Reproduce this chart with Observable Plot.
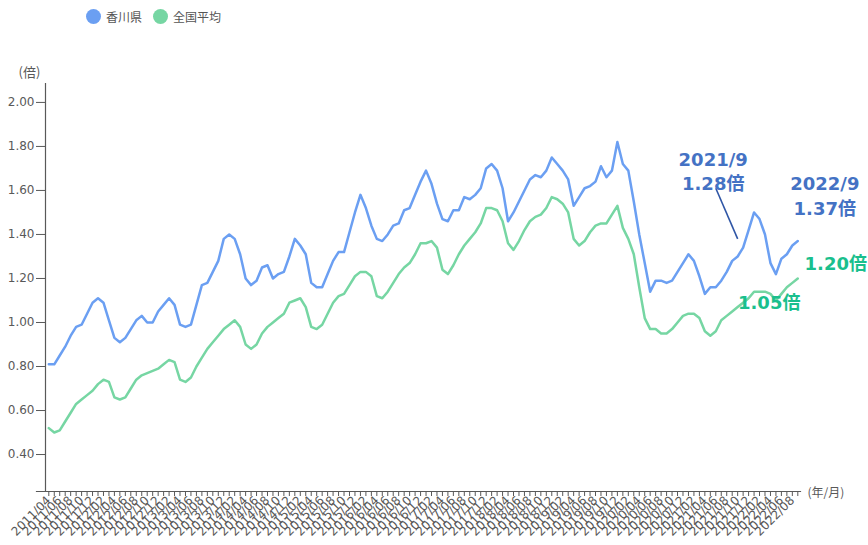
<!DOCTYPE html>
<html>
<head>
<meta charset="utf-8">
<script src="https://cdn.jsdelivr.net/npm/d3@7"></script>
<script src="https://cdn.jsdelivr.net/npm/@observablehq/plot@0.6"></script>
<style>
  html, body { margin: 0; padding: 0; background: #fff; }
  #legend { height: 32px; display: flex; align-items: center; padding-left: 86px;
    font: 12px "Noto Sans CJK JP", sans-serif; color: #555; }
  #legend .sw { display: inline-block; width: 15px; height: 15px; border-radius: 50%; margin-right: 5px; }
  #legend .item { display: flex; align-items: center; margin-right: 11px; }
</style>
</head>
<body>
<div id="legend"></div>
<div id="chart"></div>
<script>
// Series names and colours
const seriesNames = ["香川県", "全国平均"];
const seriesColors = ["#6b9ff2", "#76d6a3"];

// Monthly categories: 2011/04 .. 2022/09
const startYear = 2011, startMonth = 4, monthCount = 138;
const months = [];
for (let k = 0; k < monthCount; k++) {
  const t = startMonth - 1 + k;
  const y = startYear + Math.floor(t / 12), m = (t % 12) + 1;
  months.push(`${y}/${String(m).padStart(2, "0")}`);
}

// 有効求人倍率 (倍) — 香川県
const kagawa = [
  0.81, 0.81, 0.85, 0.89, 0.94, 0.98, 0.99, 1.04, 1.09,
  1.11, 1.09, 1.01, 0.93, 0.91, 0.93, 0.97, 1.01, 1.03, 1.00, 1.00, 1.05,
  1.08, 1.11, 1.08, 0.99, 0.98, 0.99, 1.08, 1.17, 1.18, 1.23, 1.28, 1.38,
  1.40, 1.38, 1.31, 1.20, 1.17, 1.19, 1.25, 1.26, 1.20, 1.22, 1.23, 1.30,
  1.38, 1.35, 1.31, 1.18, 1.16, 1.16, 1.22, 1.28, 1.32, 1.32, 1.41, 1.50,
  1.58, 1.52, 1.44, 1.38, 1.37, 1.40, 1.44, 1.45, 1.51, 1.52, 1.58, 1.64,
  1.69, 1.63, 1.54, 1.47, 1.46, 1.51, 1.51, 1.57, 1.56, 1.58, 1.61, 1.70,
  1.72, 1.69, 1.61, 1.46, 1.50, 1.55, 1.60, 1.65, 1.67, 1.66, 1.69, 1.75,
  1.72, 1.69, 1.65, 1.53, 1.57, 1.61, 1.62, 1.64, 1.71, 1.66, 1.69, 1.82,
  1.72, 1.69, 1.55, 1.40, 1.27, 1.14, 1.19, 1.19, 1.18, 1.19, 1.23, 1.27,
  1.31, 1.28, 1.21, 1.13, 1.16, 1.16, 1.19, 1.23, 1.28, 1.30, 1.34, 1.42,
  1.50, 1.47, 1.40, 1.27, 1.22, 1.29, 1.31, 1.35, 1.37
];

// 有効求人倍率 (倍) — 全国平均
const national = [
  0.52, 0.50, 0.51, 0.55, 0.59, 0.63, 0.65, 0.67, 0.69,
  0.72, 0.74, 0.73, 0.66, 0.65, 0.66, 0.70, 0.74, 0.76, 0.77, 0.78, 0.79,
  0.81, 0.83, 0.82, 0.74, 0.73, 0.75, 0.80, 0.84, 0.88, 0.91, 0.94, 0.97,
  0.99, 1.01, 0.98, 0.90, 0.88, 0.90, 0.95, 0.98, 1.00, 1.02, 1.04, 1.09,
  1.10, 1.11, 1.07, 0.98, 0.97, 0.99, 1.04, 1.09, 1.12, 1.13, 1.17, 1.21,
  1.23, 1.23, 1.21, 1.12, 1.11, 1.14, 1.18, 1.22, 1.25, 1.27, 1.31, 1.36,
  1.36, 1.37, 1.34, 1.24, 1.22, 1.26, 1.31, 1.35, 1.38, 1.41, 1.45, 1.52,
  1.52, 1.51, 1.46, 1.36, 1.33, 1.37, 1.42, 1.46, 1.48, 1.49, 1.52, 1.57,
  1.56, 1.54, 1.50, 1.38, 1.35, 1.37, 1.41, 1.44, 1.45, 1.45, 1.49, 1.53,
  1.43, 1.38, 1.31, 1.16, 1.02, 0.97, 0.97, 0.95, 0.95, 0.97, 1.00, 1.03,
  1.04, 1.04, 1.02, 0.96, 0.94, 0.96, 1.01, 1.03, 1.05, 1.07, 1.09, 1.11,
  1.14, 1.14, 1.14, 1.13, 1.10, 1.13, 1.16, 1.18, 1.20
];

const yTicks = [0.40, 0.60, 0.80, 1.00, 1.20, 1.40, 1.60, 1.80, 2.00];
const yUnit = "(倍)";
const xUnit = "(年/月)";

// Callouts
const blueNotes = [
  { month: "2021/09", value: 1.28, label: "2021/9\n1.28倍" },
];
const blueNotes2 = [
  { month: "2022/09", value: 1.37, label: "2022/9\n1.37倍" },
];
const greenNote1 = [{ month: "2022/09", value: 1.20, label: "1.20倍" }];
const greenNote2 = [{ month: "2021/09", value: 1.05, label: "1.05倍" }];
const pointer = [{ from: "2021/06", fromValue: 1.61, to: "2021/10", toValue: 1.38 }];

// Legend
const legend = document.getElementById("legend");
seriesNames.forEach((n, i) => {
  const it = document.createElement("span");
  it.className = "item";
  it.innerHTML = `<span class="sw" style="background:${seriesColors[i]}"></span>${n}`;
  legend.appendChild(it);
});

const data = months.flatMap((m, i) => [
  { month: m, value: kagawa[i], series: seriesNames[0] },
  { month: m, value: national[i], series: seriesNames[1] }
]);

const noteBlue = "#4472c4", noteGreen = "#1abf8d";
const noteFont = "DejaVu Sans, Noto Sans CJK JP, sans-serif";

const chart = Plot.plot({
  width: 868,
  height: 513,
  marginLeft: 45,
  marginRight: 68,
  marginTop: 51,
  marginBottom: 54,
  style: { fontFamily: "DejaVu Sans, Noto Sans CJK JP, sans-serif", color: "#595959", background: "#fff", overflow: "visible" },
  x: { type: "point", domain: months, padding: 0, insetLeft: 3.3, insetRight: 2.7 },
  y: { domain: [0.232, 2.086] },
  color: { domain: seriesNames, range: seriesColors },
  marks: [
    Plot.frame({ anchor: "left", stroke: "#595959", strokeWidth: 1.2 }),
    Plot.frame({ anchor: "bottom", stroke: "#595959", strokeWidth: 1.2, insetLeft: -9 }),
    Plot.axisY({ ticks: yTicks, tickFormat: d => d.toFixed(2), tickSize: 9, tickPadding: 2, fontSize: 12, label: null, stroke: "#595959" }),
    Plot.axisX({
      tickFormat: d => (parseInt(d.slice(5), 10) % 2 === 0 ? d : ""),
      tickRotate: -45, tickSize: 5, tickPadding: 2, fontSize: 12, label: null, stroke: "#595959"
    }),
    Plot.text([yUnit], { frameAnchor: "top-left", dx: -27, dy: -16, fontSize: 13, fill: "#595959", fontFamily: "Noto Sans CJK JP" }),
    Plot.text([xUnit], { frameAnchor: "bottom-right", textAnchor: "start", dx: 7, dy: 5, fontSize: 12, fill: "#595959", fontFamily: "Noto Sans CJK JP" }),
    Plot.line(data, { x: "month", y: "value", stroke: "series", z: "series", strokeWidth: 2.5, curve: "linear" }),
    Plot.link(pointer, { x1: "from", y1: "fromValue", x2: "to", y2: "toValue", stroke: "#2f56a6", strokeWidth: 1.6 }),
    Plot.text(blueNotes, { x: "month", y: "value", text: "label", dx: -19, dy: -91, lineHeight: 1.35, lineAnchor: "middle", fontSize: 18, fontWeight: "bold", fill: noteBlue, fontFamily: noteFont }),
    Plot.text(blueNotes2, { x: "month", y: "value", text: "label", dx: 27, dy: -47, lineHeight: 1.4, lineAnchor: "middle", fontSize: 18, fontWeight: "bold", fill: noteBlue, fontFamily: noteFont }),
    Plot.text(greenNote1, { x: "month", y: "value", text: "label", dx: 38, dy: -14, fontSize: 18, fontWeight: "bold", fill: noteGreen, fontFamily: noteFont }),
    Plot.text(greenNote2, { x: "month", y: "value", text: "label", dx: 37, dy: -8, fontSize: 18, fontWeight: "bold", fill: noteGreen, fontFamily: noteFont })
  ]
});
document.getElementById("chart").appendChild(chart);
</script>
</body>
</html>
